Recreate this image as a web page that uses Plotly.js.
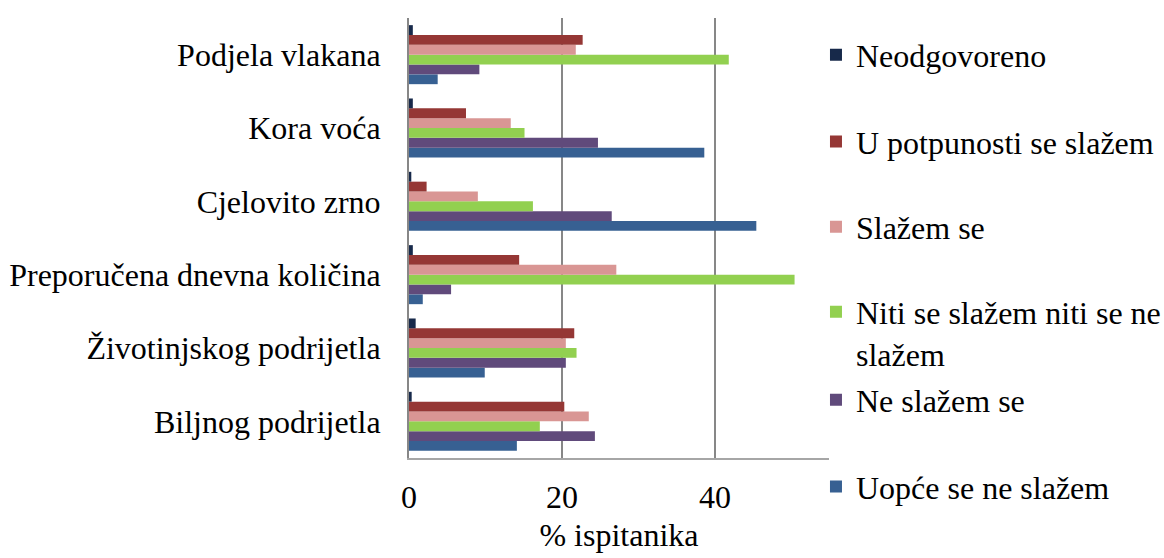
<!DOCTYPE html>
<html>
<head>
<meta charset="utf-8">
<script src="https://cdn.plot.ly/plotly-3.0.1.min.js"></script>
<style>html,body{margin:0;padding:0;background:#fff;}#chart{width:1164px;height:558px;}</style>
</head>
<body>
<div id="chart"></div>
<script>
// Categories listed bottom to top
const categories = ['Biljnog podrijetla', 'Životinjskog podrijetla', 'Preporučena dnevna količina', 'Cjelovito zrno', 'Kora voća', 'Podjela vlakana'];

const uopceSeNeSlazem = [14.1, 9.9, 1.8, 45.4, 38.6, 3.75];
const neSlazemSe = [24.3, 20.5, 5.5, 26.5, 24.7, 9.2];
const nitiNiti = [17.1, 21.9, 50.4, 16.2, 15.1, 41.8];
const slazemSe = [23.5, 20.5, 27.1, 9.0, 13.3, 21.8];
const uPotpunosti = [20.3, 21.6, 14.4, 2.3, 7.45, 22.7];
const neodgovoreno = [0.35, 0.87, 0.5, 0.3, 0.5, 0.5];

const seriesNames = ['Uopće se ne slažem', 'Ne slažem se', 'Niti se slažem niti se ne<br>slažem', 'Slažem se', 'U potpunosti se slažem', 'Neodgovoreno'];
const seriesValues = [uopceSeNeSlazem, neSlazemSe, nitiNiti, slazemSe, uPotpunosti, neodgovoreno];
const seriesColors = ['#376092', '#604A7B', '#92D050', '#D99694', '#953735', '#17294A'];
const legendIds = ['legend6', 'legend5', 'legend4', 'legend3', 'legend2', 'legend'];

const FONT = 'Liberation Serif, Times New Roman, serif';
const FS = 32;

const traces = seriesNames.map((n, i) => ({
  type: 'bar',
  orientation: 'h',
  name: n,
  y: categories,
  x: seriesValues[i],
  marker: {color: seriesColors[i], line: {width: 0}},
  legend: legendIds[i],
  showlegend: true,
  hoverinfo: 'x+y+name'
}));

function leg(y, valign) {
  return {
    visible: true,
    x: 0.969, xref: 'paper', xanchor: 'left',
    y: y, yref: 'paper', yanchor: 'middle',
    valign: valign || 'middle',
    font: {family: FONT, size: FS, color: '#000'},
    bgcolor: 'rgba(0,0,0,0)', borderwidth: 0
  };
}

const layout = {
  width: 1164, height: 558,
  showlegend: true,
  margin: {l: 409, r: 335, t: 18, b: 100, pad: 0, autoexpand: false},
  paper_bgcolor: '#fff', plot_bgcolor: '#fff',
  barmode: 'group', bargap: 0.195, bargroupgap: 0,
  font: {family: FONT, size: FS, color: '#000'},
  xaxis: {
    range: [0, 54.9], tick0: 0, dtick: 20,
    showgrid: true, gridcolor: '#878787', gridwidth: 2,
    zeroline: false, showline: true, linecolor: '#a6a6a6', linewidth: 2,
    ticks: '', ticklabelstandoff: 10,
    tickfont: {family: FONT, size: FS, color: '#000'},
    title: {text: '% ispitanika', font: {family: FONT, size: FS, color: '#000'}, standoff: 9},
    automargin: false, fixedrange: true
  },
  yaxis: {
    type: 'category', categoryorder: 'array', categoryarray: categories,
    showgrid: false, zeroline: false, showline: true, linecolor: '#878787', linewidth: 2,
    ticks: '', ticklabelstandoff: 20,
    tickfont: {family: FONT, size: FS, color: '#000'},
    automargin: false, fixedrange: true
  },
  legend: leg(0.9159),
  legend2: leg(0.7189),
  legend3: leg(0.525),
  legend4: leg(0.2841, 'top'),
  legend5: leg(0.1318),
  legend6: leg(-0.0652)
};

Plotly.newPlot('chart', traces, layout, {displayModeBar: false, staticPlot: true});
</script>
</body>
</html>
